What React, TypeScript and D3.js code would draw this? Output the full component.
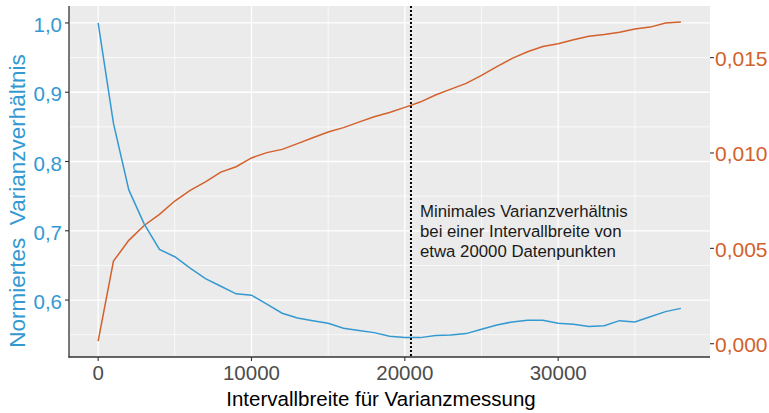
import * as d3 from "d3";
import { useEffect, useRef } from "react";

// Intervallbreite (Datenpunkte)
const intervalWidths = [
  0, 1000, 2000, 3000, 4000, 5000, 6000, 7000, 8000, 9000,
  10000, 11000, 12000, 13000, 14000, 15000, 16000, 17000, 18000, 19000,
  20000, 21000, 22000, 23000, 24000, 25000, 26000, 27000, 28000, 29000,
  30000, 31000, 32000, 33000, 34000, 35000, 36000, 37000, 38000
];

// normiertes Varianzverhältnis (linke Achse)
const varianceRatio = [
  1.0, 0.855, 0.759, 0.71, 0.673, 0.6625, 0.646, 0.631, 0.62, 0.609,
  0.607, 0.594, 0.581, 0.574, 0.5703, 0.5666, 0.5594, 0.556, 0.553, 0.5478,
  0.5458, 0.5458, 0.5487, 0.5497, 0.5516, 0.558, 0.5641, 0.5684, 0.5709, 0.5709,
  0.5666, 0.5651, 0.5617, 0.563, 0.5703, 0.5684, 0.576, 0.5833, 0.588
];

// zweite Reihe (rechte Achse)
const secondSeries = [
  0.00014, 0.00433, 0.00542, 0.0062, 0.00678, 0.00748, 0.00804, 0.00848, 0.009, 0.00928,
  0.00974, 0.01002, 0.01019, 0.01049, 0.0108, 0.0111, 0.01133, 0.01162, 0.0119, 0.01212,
  0.01239, 0.01267, 0.01304, 0.01335, 0.01365, 0.01407, 0.01453, 0.01496, 0.01531, 0.01558,
  0.01573, 0.01594, 0.01612, 0.01621, 0.01633, 0.0165, 0.0166, 0.01682, 0.01687
];

const xTicks = [0, 10000, 20000, 30000];
const xMinor = [5000, 15000, 25000, 35000];
const yTicks = [0.6, 0.7, 0.8, 0.9, 1.0];
const yMinor = [0.55, 0.65, 0.75, 0.85, 0.95];
const yRightTicks = [0, 0.005, 0.01, 0.015];

const minimumAt = 20400;
const noteLines = [
  "Minimales Varianzverhältnis",
  "bei einer Intervallbreite von",
  "etwa 20000 Datenpunkten"
];

// sekundäre Achse: links = offset + factor * rechts
const secFactor = 27.53;
const secOffset = 0.537;

const blue = "#3499D0";
const orange = "#D2612C";
const font = "'Liberation Sans', Arial, sans-serif";

const fmt = (d) => String(d).replace(".", ",");

const App = () => {
  const chartRef = useRef(null);

  const width = 769;
  const height = 413;
  const margin = { top: 6, right: 59, bottom: 56, left: 69 };

  useEffect(() => {
    const svg = d3.select(chartRef.current);
    svg.selectAll("*").remove();

    const x0 = margin.left;
    const x1 = width - margin.right;
    const y0 = height - margin.bottom;
    const y1 = margin.top;

    const xExt = d3.extent(intervalWidths);
    const xPad = (xExt[1] - xExt[0]) * 0.05;
    const scaleX = d3.scaleLinear().domain([xExt[0] - xPad, xExt[1] + xPad]).range([x0, x1]);

    const all = varianceRatio.concat(secondSeries.map(v => secOffset + secFactor * v));
    const yExt = d3.extent(all);
    const yPad = (yExt[1] - yExt[0]) * 0.05;
    const scaleY = d3.scaleLinear().domain([yExt[0] - yPad, yExt[1] + yPad]).range([y0, y1]);
    const scaleY2 = d3.scaleLinear()
      .domain(scaleY.domain().map(v => (v - secOffset) / secFactor))
      .range([y0, y1]);

    // panel
    svg.append("rect")
      .attr("x", x0).attr("y", y1)
      .attr("width", x1 - x0).attr("height", y0 - y1)
      .attr("fill", "#EBEBEB");

    const grid = svg.append("g").attr("stroke", "white");
    grid.selectAll(".ymin").data(yMinor).enter().append("line")
      .attr("x1", x0).attr("x2", x1)
      .attr("y1", d => scaleY(d)).attr("y2", d => scaleY(d))
      .attr("stroke-width", 0.7);
    grid.selectAll(".xmin").data(xMinor).enter().append("line")
      .attr("y1", y1).attr("y2", y0)
      .attr("x1", d => scaleX(d)).attr("x2", d => scaleX(d))
      .attr("stroke-width", 0.7);
    grid.selectAll(".ymaj").data(yTicks).enter().append("line")
      .attr("x1", x0).attr("x2", x1)
      .attr("y1", d => scaleY(d)).attr("y2", d => scaleY(d))
      .attr("stroke-width", 1.3);
    grid.selectAll(".xmaj").data(xTicks).enter().append("line")
      .attr("y1", y1).attr("y2", y0)
      .attr("x1", d => scaleX(d)).attr("x2", d => scaleX(d))
      .attr("stroke-width", 1.3);

    // Linien
    const lineBlue = d3.line()
      .x((d, i) => scaleX(intervalWidths[i]))
      .y(d => scaleY(d));
    const lineOrange = d3.line()
      .x((d, i) => scaleX(intervalWidths[i]))
      .y(d => scaleY2(d));

    svg.append("path")
      .attr("d", lineOrange(secondSeries))
      .attr("fill", "none")
      .attr("stroke", orange)
      .attr("stroke-width", 1.5);

    svg.append("path")
      .attr("d", lineBlue(varianceRatio))
      .attr("fill", "none")
      .attr("stroke", blue)
      .attr("stroke-width", 1.5);

    // Minimum-Markierung
    svg.append("line")
      .attr("x1", scaleX(minimumAt)).attr("x2", scaleX(minimumAt))
      .attr("y1", y1).attr("y2", y0)
      .attr("stroke", "black")
      .attr("stroke-width", 2)
      .attr("stroke-dasharray", "2,2");

    svg.append("g")
      .selectAll("text")
      .data(noteLines)
      .enter()
      .append("text")
      .attr("x", scaleX(minimumAt) + 9)
      .attr("y", (d, i) => 217 + i * 20)
      .attr("font-family", font)
      .attr("font-size", 16.8)
      .attr("fill", "#1A1A1A")
      .text(d => d);

    // Achsenlinien
    svg.append("line")
      .attr("x1", x0).attr("x2", x0).attr("y1", y1).attr("y2", y0 + 0.6)
      .attr("stroke", "#333").attr("stroke-width", 1.3);
    svg.append("line")
      .attr("x1", x0 - 0.6).attr("x2", x1).attr("y1", y0).attr("y2", y0)
      .attr("stroke", "#333").attr("stroke-width", 1.3);

    // x-Achse
    const xAxis = svg.append("g");
    xAxis.selectAll("line").data(xTicks).enter().append("line")
      .attr("x1", d => scaleX(d)).attr("x2", d => scaleX(d))
      .attr("y1", y0).attr("y2", y0 + 4)
      .attr("stroke", "#333").attr("stroke-width", 1.1);
    xAxis.selectAll("text").data(xTicks).enter().append("text")
      .attr("x", d => scaleX(d))
      .attr("y", 380)
      .attr("text-anchor", "middle")
      .attr("font-family", font)
      .attr("font-size", 20.5)
      .attr("fill", "#4D4D4D")
      .text(d => String(d));

    // linke y-Achse
    const yAxis = svg.append("g");
    yAxis.selectAll("line").data(yTicks).enter().append("line")
      .attr("x1", x0 - 4).attr("x2", x0)
      .attr("y1", d => scaleY(d)).attr("y2", d => scaleY(d))
      .attr("stroke", "#333").attr("stroke-width", 1.1);
    yAxis.selectAll("text").data(yTicks).enter().append("text")
      .attr("x", x0 - 7)
      .attr("y", d => scaleY(d) + 9)
      .attr("text-anchor", "end")
      .attr("font-family", font)
      .attr("font-size", 20.5)
      .attr("fill", blue)
      .text(d => d3.format(".1f")(d).replace(".", ","));

    // rechte y-Achse
    const yAxis2 = svg.append("g");
    yAxis2.selectAll("line").data(yRightTicks).enter().append("line")
      .attr("x1", x1).attr("x2", x1 + 4)
      .attr("y1", d => scaleY2(d)).attr("y2", d => scaleY2(d))
      .attr("stroke", "#333").attr("stroke-width", 1.1);
    yAxis2.selectAll("text").data(yRightTicks).enter().append("text")
      .attr("x", x1 + 5)
      .attr("y", d => scaleY2(d) + 8.5)
      .attr("font-family", font)
      .attr("font-size", 21)
      .attr("fill", orange)
      .text(d => fmt(d3.format(".3f")(d)));

    // Achsentitel
    svg.append("text")
      .attr("x", 381)
      .attr("y", 406)
      .attr("text-anchor", "middle")
      .attr("font-family", font)
      .attr("font-size", 20.5)
      .attr("fill", "black")
      .text("Intervallbreite für Varianzmessung");

    svg.append("text")
      .attr("transform", "translate(25, 201) rotate(-90)")
      .attr("text-anchor", "middle")
      .attr("font-family", font)
      .attr("font-size", 22.5)
      .attr("fill", blue)
      .style("white-space", "pre")
      .text("Normiertes  Varianzverhältnis");
  }, []);

  return (
    <svg
      ref={chartRef}
      width={width}
      height={height}
      style={{ position: "absolute", left: 0, top: 0, background: "white" }}
    ></svg>
  );
};

export default App;
